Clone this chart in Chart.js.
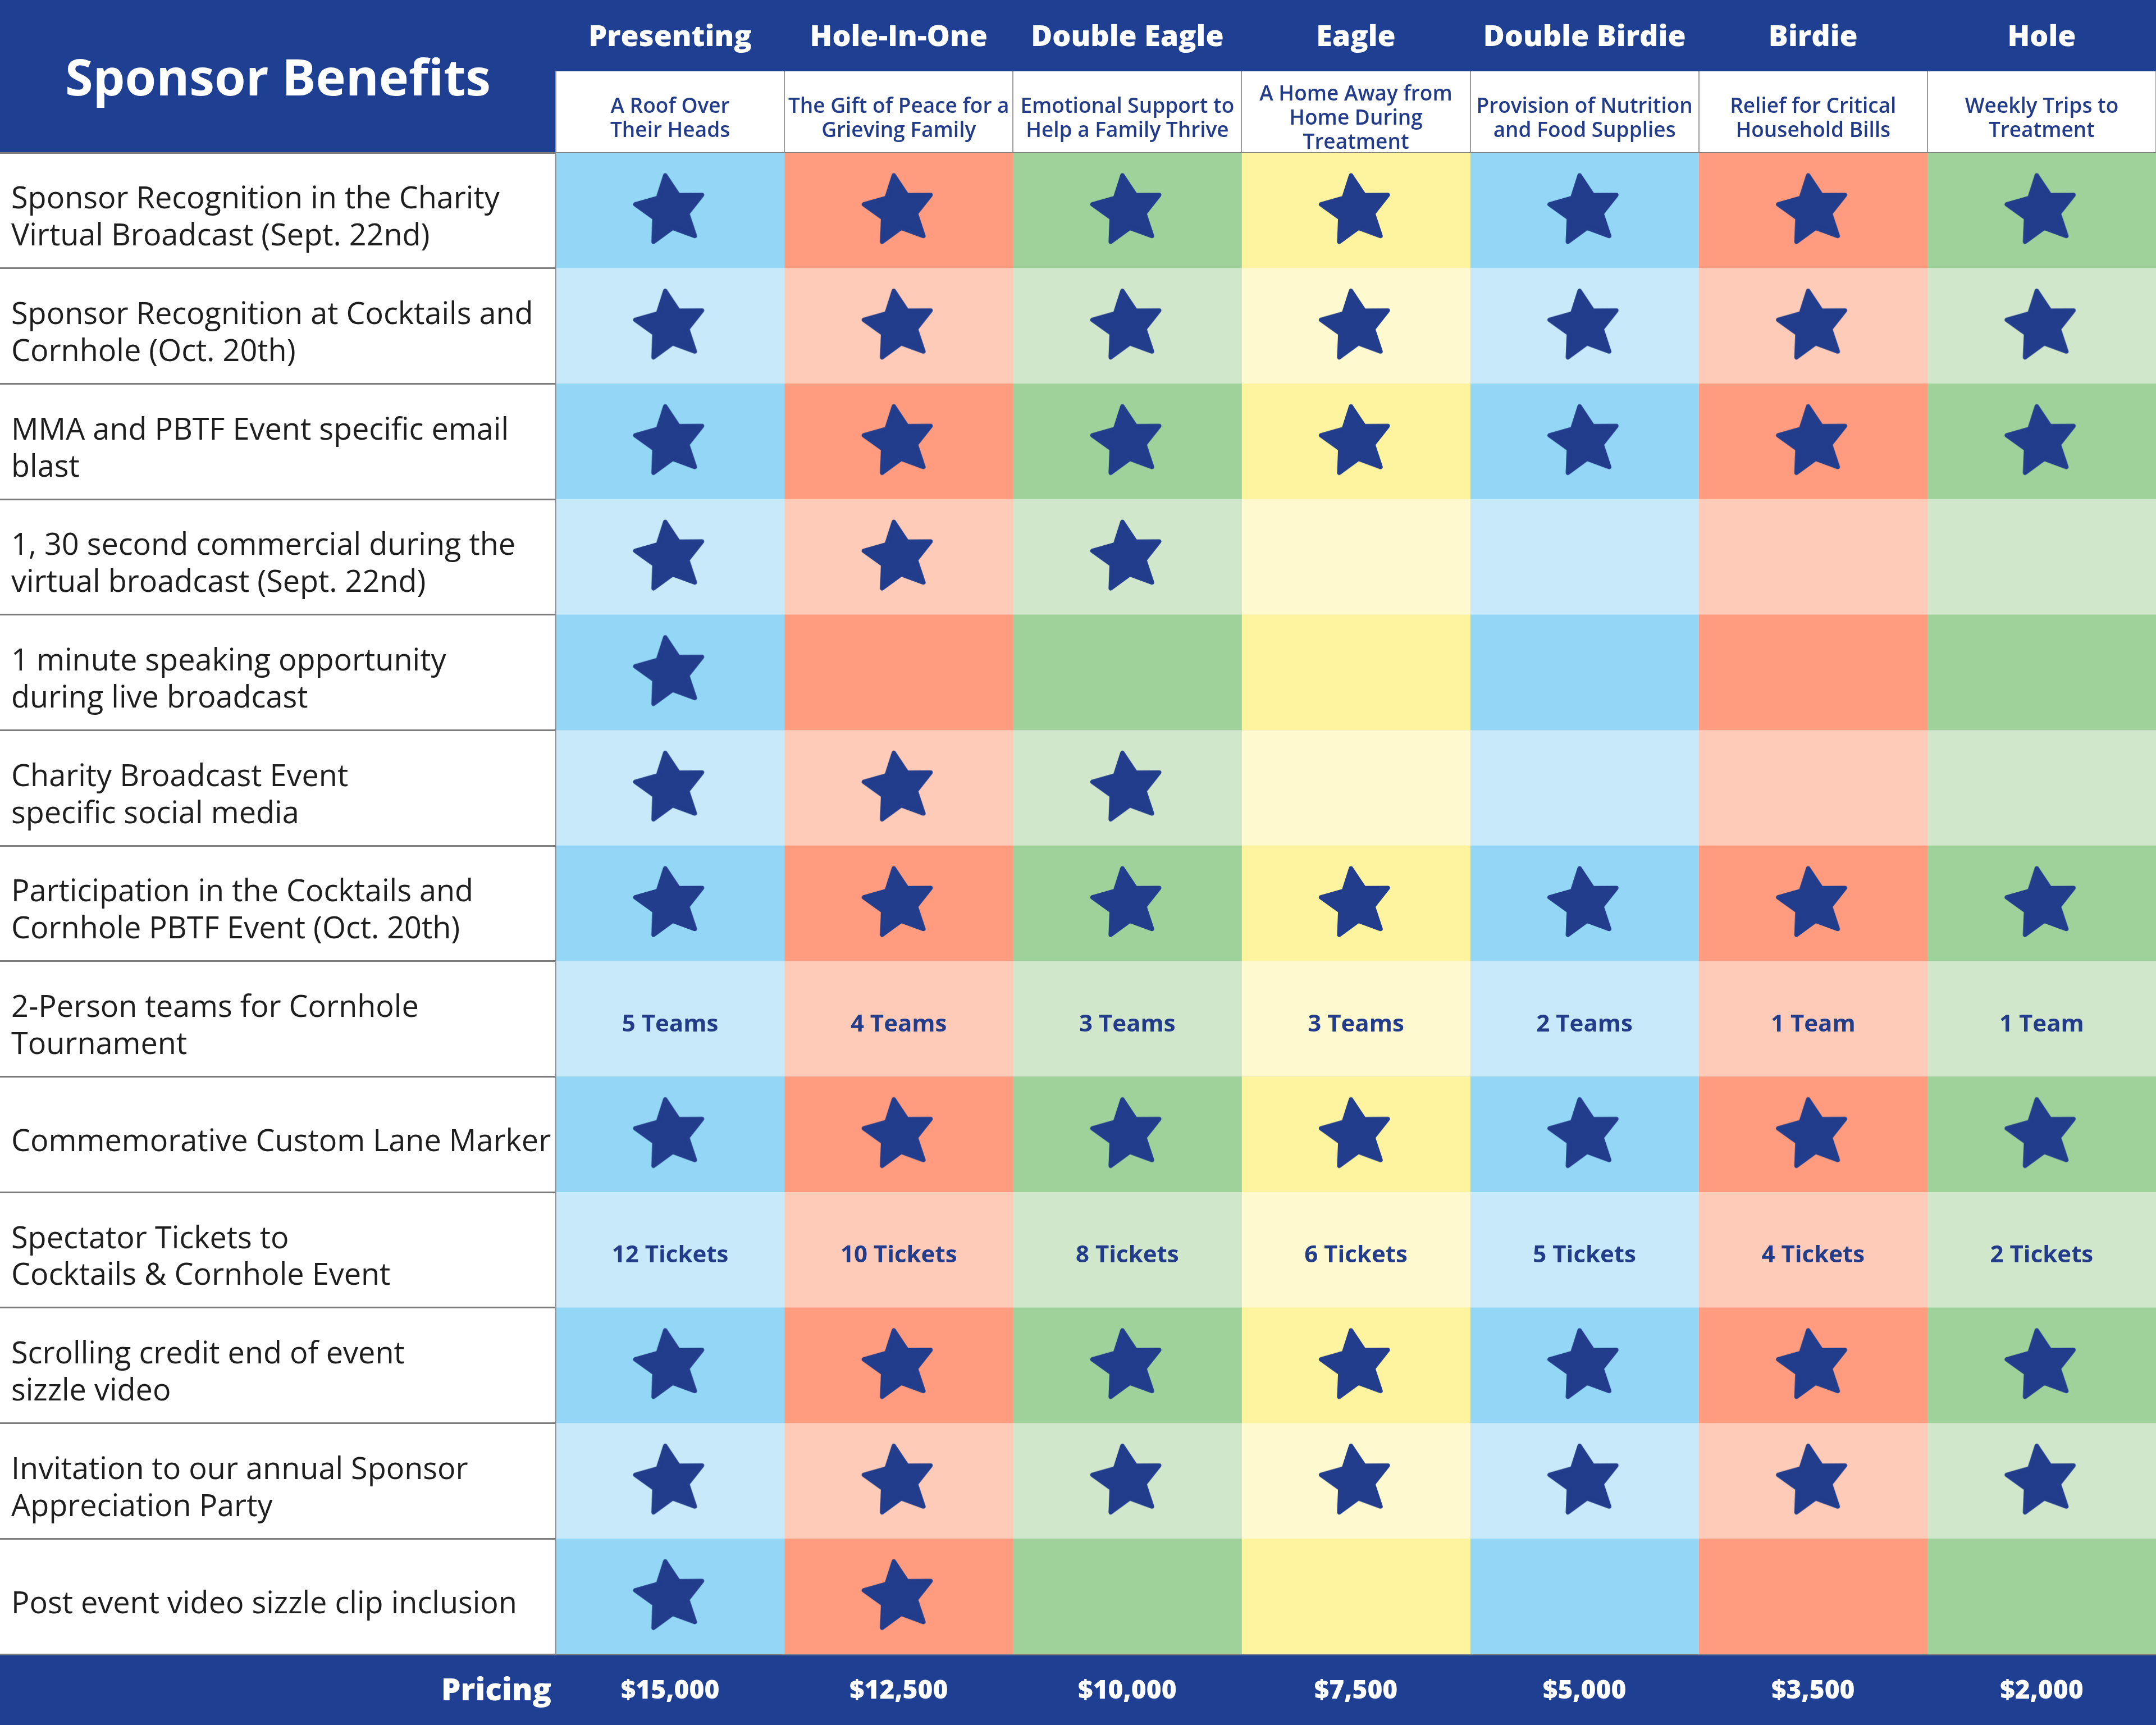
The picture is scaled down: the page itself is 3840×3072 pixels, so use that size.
<!DOCTYPE html>
<html>
<head>
<meta charset="utf-8">
<title>Sponsor Benefits</title>
<script src="https://cdn.jsdelivr.net/npm/chart.js@4.4.1/dist/chart.umd.min.js"></script>
<style>
  html, body { margin: 0; padding: 0; background: #fff; }
  #wrap { width: 3840px; height: 3072px; }
</style>
</head>
<body>
<div id="wrap"><canvas id="chart" width="3840" height="3072"></canvas></div>
<script>
// sponsorship tiers (columns)
const tiers = ["Presenting", "Hole-In-One", "Double Eagle", "Eagle", "Double Birdie", "Birdie", "Hole"];
const tierCauses = [
  ["A Roof Over", "Their Heads"],
  ["The Gift of Peace for a", "Grieving Family"],
  ["Emotional Support to", "Help a Family Thrive"],
  ["A Home Away from", "Home During", "Treatment"],
  ["Provision of Nutrition", "and Food Supplies"],
  ["Relief for Critical", "Household Bills"],
  ["Weekly Trips to", "Treatment"],
];
const prices = ["$15,000", "$12,500", "$10,000", "$7,500", "$5,000", "$3,500", "$2,000"];

// benefits (rows), "\n" marks the line break
const benefits = [
  "Sponsor Recognition in the Charity\nVirtual Broadcast (Sept. 22nd)",
  "Sponsor Recognition at Cocktails and\nCornhole (Oct. 20th)",
  "MMA and PBTF Event specific email\nblast",
  "1, 30 second commercial during the\nvirtual broadcast (Sept. 22nd)",
  "1 minute speaking opportunity\nduring live broadcast",
  "Charity Broadcast Event\nspecific social media",
  "Participation in the Cocktails and\nCornhole PBTF Event (Oct. 20th)",
  "2-Person teams for Cornhole\nTournament",
  "Commemorative Custom Lane Marker",
  "Spectator Tickets to\nCocktails & Cornhole Event",
  "Scrolling credit end of event\nsizzle video",
  "Invitation to our annual Sponsor\nAppreciation Party",
  "Post event video sizzle clip inclusion",
];

// 1 = star, 0 = nothing
const starMarks = [
  [1, 1, 1, 1, 1, 1, 1],
  [1, 1, 1, 1, 1, 1, 1],
  [1, 1, 1, 1, 1, 1, 1],
  [1, 1, 1, 0, 0, 0, 0],
  [1, 0, 0, 0, 0, 0, 0],
  [1, 1, 1, 0, 0, 0, 0],
  [1, 1, 1, 1, 1, 1, 1],
  [0, 0, 0, 0, 0, 0, 0],
  [1, 1, 1, 1, 1, 1, 1],
  [0, 0, 0, 0, 0, 0, 0],
  [1, 1, 1, 1, 1, 1, 1],
  [1, 1, 1, 1, 1, 1, 1],
  [1, 1, 0, 0, 0, 0, 0],
];
const teamsRow = 7;
const teamCounts = ["5 Teams", "4 Teams", "3 Teams", "3 Teams", "2 Teams", "1 Team", "1 Team"];
const ticketsRow = 9;
const ticketCounts = ["12 Tickets", "10 Tickets", "8 Tickets", "6 Tickets", "5 Tickets", "4 Tickets", "2 Tickets"];

const darkShades = ["#93d6f6", "#ff9c80", "#9fd29b", "#fef39e", "#93d6f6", "#ff9c80", "#9fd29b"];
const lightShades = ["#c8e9f9", "#fecbb8", "#d0e7cc", "#fef9cf", "#c8e9f9", "#fecbb8", "#d0e7cc"];
const navy = "#1e3f92";
const inkBlue = "#233c8a";
const FONT = "'Open Sans', 'DejaVu Sans', sans-serif";

function makeStar(size, outer, inner, tilt, color) {
  const c = document.createElement("canvas");
  c.width = c.height = size;
  const g = c.getContext("2d");
  g.translate(size / 2, size / 2);
  g.rotate((tilt * Math.PI) / 180);
  g.beginPath();
  for (let k = 0; k < 10; k++) {
    const rad = k % 2 === 0 ? outer : inner;
    const ang = -Math.PI / 2 + (k * Math.PI) / 5;
    g.lineTo(rad * Math.cos(ang), rad * Math.sin(ang));
  }
  g.closePath();
  g.fillStyle = color;
  g.strokeStyle = color;
  g.lineWidth = 8;
  g.lineJoin = "round";
  g.fill();
  g.stroke();
  return c;
}

// header, pricing band and text cells
const tableFrame = {
  id: "tableFrame",
  beforeDraw(chart) {
    const { ctx, chartArea: a, scales: { x } } = chart;
    ctx.save();
    ctx.fillStyle = navy;
    ctx.fillRect(0, 0, chart.width, x.top);
    ctx.fillRect(0, 0, a.left, a.top);
    ctx.fillRect(0, a.bottom, chart.width, chart.height - a.bottom);
    ctx.fillStyle = "#fff";
    ctx.fillRect(a.left, x.top, a.right - a.left, a.top - x.top);
    ctx.restore();
  },
  afterDatasetsDraw(chart) {
    const { ctx, scales: { x, y } } = chart;
    ctx.save();
    ctx.fillStyle = inkBlue;
    ctx.font = `700 42px ${FONT}`;
    ctx.textAlign = "center";
    ctx.textBaseline = "middle";
    tiers.forEach((t, c) => {
      ctx.fillText(teamCounts[c], x.getPixelForValue(c + 0.5), y.getPixelForValue(teamsRow) + 10);
      ctx.fillText(ticketCounts[c], x.getPixelForValue(c + 0.5), y.getPixelForValue(ticketsRow) + 10);
    });
    ctx.restore();
  },
  afterDraw(chart) {
    const { ctx, chartArea: a, scales: { x } } = chart;
    ctx.save();
    ctx.textAlign = "center";
    ctx.textBaseline = "middle";
    ctx.fillStyle = "#fff";
    ctx.font = `700 90px ${FONT}`;
    ctx.fillText("Sponsor Benefits", a.left / 2, 144);
    ctx.font = `800 52px ${FONT}`;
    tiers.forEach((t, c) => ctx.fillText(t, x.getPixelForValue(c + 0.5), x.top / 2 + 4));
    ctx.fillStyle = inkBlue;
    ctx.font = `600 37px ${FONT}`;
    const mid = (x.top + a.top) / 2 + 12;
    tierCauses.forEach((lines, c) => {
      lines.forEach((ln, i) => {
        ctx.fillText(ln, x.getPixelForValue(c + 0.5), mid + (i - (lines.length - 1) / 2) * 43);
      });
    });
    const py = (a.bottom + chart.height) / 2 + 3;
    ctx.fillStyle = "#fff";
    ctx.font = `800 46px ${FONT}`;
    prices.forEach((p, c) => ctx.fillText(p, x.getPixelForValue(c + 0.5), py));
    ctx.textAlign = "right";
    ctx.font = `800 55px ${FONT}`;
    ctx.fillText("Pricing", a.left - 8, py);
    ctx.restore();
  },
};

function draw() {
  const star = makeStar(160, 63, 31, -8, "#223d8b");

  const cellSets = tiers.map((tier, c) => ({
    type: "bar",
    label: tier,
    indexAxis: "y",
    data: benefits.map(() => [c, c + 1]),
    backgroundColor: benefits.map((_, r) => (r % 2 === 0 ? darkShades[c] : lightShades[c])),
    grouped: false,
    barPercentage: 1,
    categoryPercentage: 1,
    borderWidth: 0,
    order: 2,
  }));

  const starPoints = [];
  starMarks.forEach((row, r) =>
    row.forEach((m, c) => {
      if (m) starPoints.push({ x: c + 0.5, y: benefits[r] });
    })
  );

  new Chart(document.getElementById("chart"), {
    type: "bar",
    data: {
      labels: benefits,
      datasets: [
        ...cellSets,
        {
          type: "scatter",
          label: "Included",
          data: starPoints,
          pointStyle: star,
          pointRadius: 30,
          order: 1,
        },
      ],
    },
    options: {
      responsive: false,
      devicePixelRatio: 1,
      animation: false,
      events: [],
      layout: { autoPadding: false, padding: { top: 127, bottom: 126, left: 20, right: 0 } },
      plugins: { legend: { display: false }, tooltip: { enabled: false } },
      scales: {
        x: {
          type: "linear",
          position: "top",
          offset: false,
          min: 0,
          max: tiers.length,
          ticks: { display: false, stepSize: 1 },
          grid: { offset: false, color: "#9a9a9a", lineWidth: 2, drawTicks: true, tickLength: 145, tickColor: "#9a9a9a" },
          border: { display: false },
          afterFit: (s) => { s.height = 145; },
          z: 1,
        },
        y: {
          type: "category",
          offset: true,
          grid: { offset: true, color: "#7c7c7c", lineWidth: 3, tickLength: 990, tickColor: "#7c7c7c" },
          border: { display: true, color: "#8a8a8a", width: 2 },
          ticks: {
            crossAlign: "far",
            autoSkip: false,
            padding: 0,
            labelOffset: 14,
            color: "#1e1e1e",
            font: { family: FONT, size: 54, weight: "400", lineHeight: 1.22 },
            callback: (v, i) => benefits[i].split("\n"),
          },
          afterFit: (s) => { s.width = 970; },
          z: 1,
        },
      },
    },
    plugins: [tableFrame],
  });
}

Promise.all([
  document.fonts.load(`400 54px 'Open Sans'`),
  document.fonts.load(`600 37px 'Open Sans'`),
  document.fonts.load(`700 52px 'Open Sans'`),
  document.fonts.load(`800 46px 'Open Sans'`),
]).then(draw, draw);
</script>
</body>
</html>
